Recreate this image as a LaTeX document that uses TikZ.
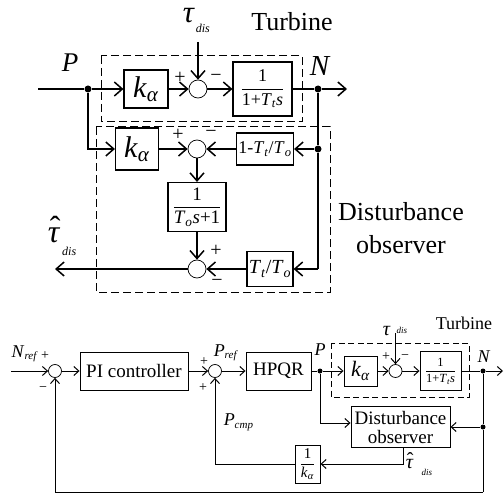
\documentclass[tikz,border=0pt]{standalone}
\usepackage{fontspec}
\setmainfont{Liberation Serif}
\usetikzlibrary{arrows.meta, positioning, calc}
\newcommand\vi[1]{\textit{#1}}
\newcommand\sbs[1]{\textsubscript{\textit{#1}}}
\newcommand\fsz[1]{\fontsize{#1}{#1}\selectfont}
\newcommand\fr[2]{$\displaystyle\frac{\mbox{#1}}{\mbox{#2}}$}
\newcommand\tauhat[2]{\makebox[0pt][l]{\hspace{#1}\raisebox{#2}{ˆ}}\vi{τ}}
\tikzset{
  every picture/.style={line width=1.5pt},
  blk/.style={draw, line width=1.1pt, inner sep=1pt, align=center},
  sumc/.style={circle, draw, line width=0.7pt, inner sep=0pt, minimum size=#1},
  sumc/.default=18pt,
  dot/.style={circle, fill, inner sep=0pt, minimum size=#1},
  dot/.default=7pt,
  arrow/.style={-{Straight Barb[length=8pt, width=14pt]}},
  barrow/.style={-{Straight Barb[length=5pt, width=9pt]}, line width=1pt},
  dbox/.style={draw, line width=1pt, dash pattern=on 8pt off 4pt},
  sgn/.style={inner sep=0pt, font=\fsz{#1}},
  sgn/.default=20,
  lbl/.style={inner sep=0pt, anchor=base west},
}
\begin{document}
\begin{tikzpicture}[x=1pt, y=-1pt,
                    sb/.style={blk, line width=0.9pt}]
  \useasboundingbox (0,0) rectangle (504,495);
  % turbine row
  \coordinate (pin) at (38,89);
  \node[dot] (jp) at (88,89) {};
  \node[blk, minimum width=44pt, minimum height=38pt, font=\fsz{30}] (kt) at (146,89) {\vi{k}\sbs{α}};
  \node[sumc] (s1) at (198,89) {};
  \node[blk, minimum width=59pt, minimum height=54pt, font=\fsz{18}] (gt) at (262.5,89) {\fr{1}{1+\vi{T}\sbs{t}\vi{s}}};
  \node[dot] (jn) at (318,89) {};
  \coordinate (nout) at (347,89);
  \coordinate (tin) at (198,42);
  \draw (pin) -- (jp);
  \draw (gt) -- (jn);
  \foreach \a/\b in {jp/kt, kt/s1, s1/gt, jn/nout, tin/s1}
    \draw[arrow] (\a) -- (\b);
  \draw[dbox] (101,56) rectangle (302,122);
  \node[font=\fsz{26}] (lturb) at (292,22) {Turbine};
  \node[lbl] (ltau) at (182,23) {\fsz{31}\vi{τ}\hspace{1pt}\raisebox{-10pt}{\fsz{12}\vi{dis}}};
  \node[lbl] (lp) at (61,72) {\fsz{27}\vi{P}};
  \node[lbl] (ln) at (309,76) {\fsz{29}\vi{N}};
  % disturbance observer
  \node[blk, minimum width=43pt, minimum height=42pt, font=\fsz{30}] (kd) at (137,149) {\vi{k}\sbs{α}};
  \node[sumc] (s2) at (197,149) {};
  \node[blk, minimum width=57pt, minimum height=32pt, font=\fsz{18}] (kc) at (265,149) {1-\vi{T}\sbs{t}/\vi{T}\sbs{o}};
  \node[dot] (jd) at (318,149) {};
  \node[blk, minimum width=58pt, minimum height=49pt, font=\fsz{19}] (go) at (197,207) {\fr{1}{\vi{T}\sbs{o}\vi{s}+1}};
  \node[sumc] (s3) at (197,269) {};
  \node[blk, minimum width=46pt, minimum height=35pt, font=\fsz{20}] (tr) at (270,269) {\vi{T}\sbs{t}/\vi{T}\sbs{o}};
  \coordinate (cr) at (318,269);
  \coordinate (tout) at (55,269);
  \draw[arrow] (jp) |- (kd);
  \draw (jn) -- (jd) -- (cr);
  \foreach \a/\b in {kd/s2, kc/s2, jd/kc, cr/tr, tr/s3, s2/go, go/s3, s3/tout}
    \draw[arrow] (\a) -- (\b);
  \draw[dbox] (96,127) rectangle (330,292);
  \node[lbl] (lhat) at (47,242) {\fsz{32}\tauhat{2pt}{4pt}\hspace{2pt}\raisebox{-13pt}{\fsz{12}\vi{dis}}};
  \node[font=\fontsize{26}{33}\selectfont, align=center] (ldo) at (401,228) {Disturbance\\observer};
  \foreach \x/\y/\s in {180/78/+, 216/78/−, 178/135/+, 211/134/−, 216/251/+, 217/283/−}
    \node[sgn] at (\x,\y) {\s};
  % speed control loop
  \coordinate (nin) at (11,371);
  \node[sumc=13pt] (b1) at (55,371) {};
  \node[sb, minimum width=108pt, minimum height=38pt, font=\fsz{19}] (pi) at (134,371) {PI controller};
  \node[sumc=13pt] (b2) at (215,371) {};
  \node[sb, minimum width=65pt, minimum height=38pt, font=\fsz{19}] (hp) at (278.5,371) {HPQR};
  \node[dot=5pt] (bp) at (320,371) {};
  \node[sb, minimum width=33pt, minimum height=30pt, font=\fsz{22}] (bk) at (360.5,371) {\vi{k}\sbs{α}};
  \node[sumc=13pt] (b3) at (395.5,371) {};
  \node[sb, minimum width=41pt, minimum height=39pt, font=\fsz{12.5}] (bg) at (440.5,371) {\fr{1}{1+\vi{T}\sbs{t}\vi{s}}};
  \node[dot=5pt] (bn) at (483,371) {};
  \coordinate (bout) at (503,371);
  \coordinate (btau) at (395.5,333);
  \node[sb, minimum width=99pt, minimum height=41pt, font=\fontsize{19}{19}\selectfont] (do) at (400.5,427) {Disturbance\\observer};
  \node[dot=5pt] (bd) at (483,427) {};
  \node[sb, minimum width=25pt, minimum height=38pt, font=\fsz{15}] (bk1) at (307.5,464) {\fr{1}{\vi{k}\sbs{α}}};
  \coordinate (bc) at (483,492);
  \draw[line width=1pt] (hp) -- (bp);
  \draw[line width=1pt] (bg) -- (bn);
  \draw[line width=1pt] (bn) -- (bd) -- (bc);
  \foreach \a/\b in {nin/b1, b1/pi, pi/b2, b2/hp, bp/bk, bk/b3, b3/bg, bn/bout, btau/b3, bd/do}
    \draw[barrow] (\a) -- (\b);
  \draw[barrow] (bp) |- ([yshift=4pt]do.west);
  \draw[barrow] ([xshift=2.5pt]do.south) |- (bk1);
  \draw[barrow] (bk1) -| (b2);
  \draw[barrow] (bc) -| (b1);
  \draw[dbox, line width=0.9pt, dash pattern=on 6pt off 3.5pt] (331,343) rectangle (469,397);
  \node[font=\fsz{18}] (lbturb) at (464,323) {Turbine};
  \node[lbl] (lnref) at (11,357) {\fsz{18}\vi{N}\raisebox{-2pt}{\fsz{11}\vi{ref}}};
  \node[lbl] (lpref) at (213,356) {\fsz{18}\vi{P}\raisebox{-2pt}{\fsz{11}\vi{ref}}};
  \node[lbl] (lpcmp) at (223,425) {\fsz{18}\vi{P}\raisebox{-3pt}{\fsz{11}\vi{cmp}}};
  \node[font=\fsz{18}] (lbp) at (320,350) {\vi{P}};
  \node[font=\fsz{18}] (lbn) at (484,357) {\vi{N}};
  \node[lbl] (lbtau) at (382,335) {\fsz{20}\vi{τ}\hspace{6pt}\raisebox{2pt}{\fsz{9}\vi{dis}}};
  \node[lbl] (lbhat) at (405,468) {\fsz{20}\tauhat{1pt}{2pt}\hspace{8pt}\raisebox{-7pt}{\fsz{9}\vi{dis}}};
  \foreach \x/\y/\s in {45/356/+, 43/389/−, 204/362/+, 203/388/+, 386/357/+, 405/357/−}
    \node[sgn=14] at (\x,\y) {\s};
\end{tikzpicture}
\end{document}
